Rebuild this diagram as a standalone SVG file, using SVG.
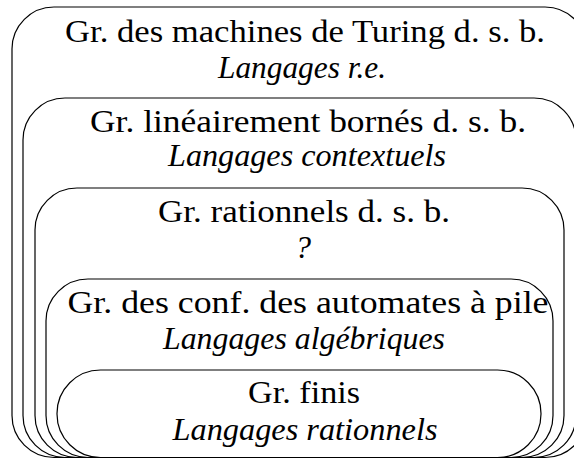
<svg xmlns="http://www.w3.org/2000/svg" width="574" height="459" viewBox="0 0 574 459">
<style>
.box{fill:none;stroke:#000;stroke-width:1.2}
text{font-family:'Liberation Serif','Times New Roman','DejaVu Serif',serif;font-size:32px;fill:#000;text-anchor:middle}
.i{font-style:italic}
</style>
<rect width="574" height="459" fill="#fff"/>
<g id="turing">
<rect class="box" x="12" y="7" width="575" height="450.5" rx="42" ry="42"/>
<text x="305" y="42" textLength="480" lengthAdjust="spacingAndGlyphs">Gr. des machines de Turing d. s. b.</text>
<text class="i" x="302" y="78" textLength="168" lengthAdjust="spacingAndGlyphs">Langages r.e.</text>
</g>
<g id="lineaire">
<rect class="box" x="23" y="98" width="553" height="359.5" rx="42" ry="42"/>
<text x="308" y="132" textLength="436" lengthAdjust="spacingAndGlyphs">Gr. linéairement bornés d. s. b.</text>
<text class="i" x="307" y="166" textLength="278" lengthAdjust="spacingAndGlyphs">Langages contextuels</text>
</g>
<g id="rationnels-dsb">
<rect class="box" x="35" y="188" width="529" height="269.5" rx="42" ry="42"/>
<text x="304" y="222" textLength="292" lengthAdjust="spacingAndGlyphs">Gr. rationnels d. s. b.</text>
<text class="i" x="303" y="258">?</text>
</g>
<g id="automates">
<rect class="box" x="46" y="279" width="507" height="178.5" rx="42" ry="42"/>
<text x="308" y="313" textLength="481" lengthAdjust="spacingAndGlyphs">Gr. des conf. des automates à pile</text>
<text class="i" x="304" y="349" textLength="282" lengthAdjust="spacingAndGlyphs">Langages algébriques</text>
</g>
<g id="finis">
<rect class="box" x="57" y="370" width="484" height="87.5" rx="43.5" ry="43.5"/>
<text x="304" y="403" textLength="112" lengthAdjust="spacingAndGlyphs">Gr. finis</text>
<text class="i" x="305" y="440" textLength="265" lengthAdjust="spacingAndGlyphs">Langages rationnels</text>
</g>
</svg>
